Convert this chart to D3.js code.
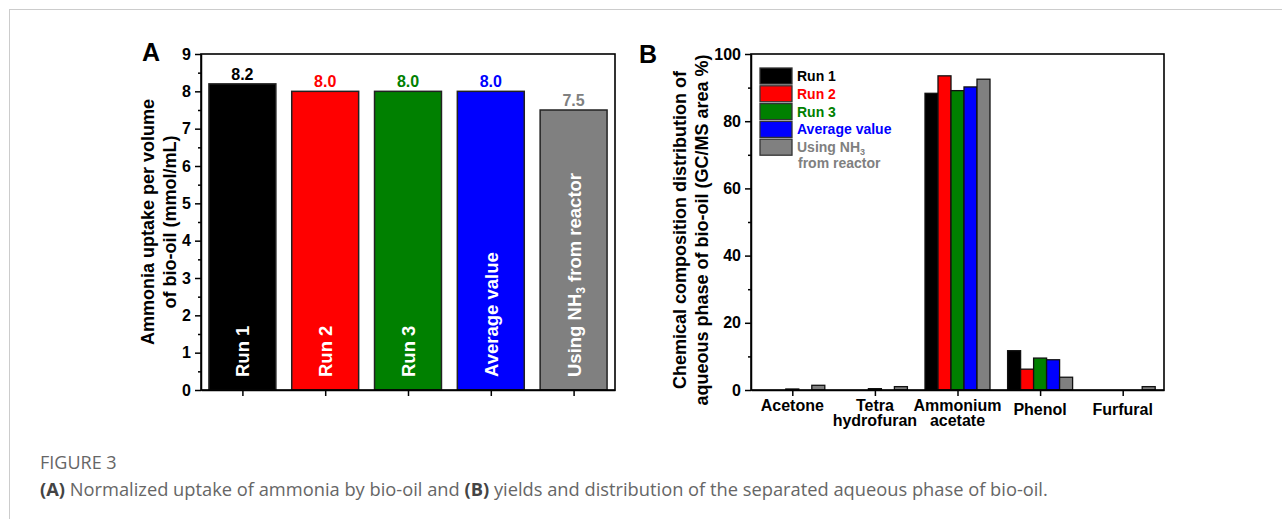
<!DOCTYPE html>
<meta charset="utf-8">
<style>
body { margin: 0; background: #fff; }
svg text { font-family: "Liberation Sans", Arial, sans-serif; }
.axis path, .axis line { stroke: #000; stroke-width: 1.5px; }
.axis text { font-weight: bold; font-size: 16px; fill: #000; }
.frame { fill: none; stroke: #000; stroke-width: 1.6px; }
svg text.caption { font-family: "Open Sans", sans-serif; fill: #666; }
</style>
<svg width="1282" height="519"></svg>
<script src="https://d3js.org/d3.v7.min.js"></script>
<script>

// panel A
var runs = ["Run 1", "Run 2", "Run 3", "Average value", "Using NH3 from reactor"];
var uptake = [8.2, 8.0, 8.0, 8.0, 7.5];
var runColors = ["#000000", "#ff0000", "#008000", "#0000ff", "#808080"];

// panel B
var compounds = ["Acetone", "Tetra hydrofuran", "Ammonium acetate", "Phenol", "Furfural"];
var run1 = [0, 0, 88.3, 11.7, 0];
var run2 = [0, 0, 93.5, 6.2, 0];
var run3 = [0.3, 0.4, 89.1, 9.5, 0];
var average = [0, 0, 90.2, 9.0, 0];
var reactor = [1.4, 1.0, 92.5, 3.8, 1.0];
var seriesB = [run1, run2, run3, average, reactor];

var svg = d3.select("svg");

// page frame
svg.append("line").attr("x1", 9).attr("x2", 1282).attr("y1", 9.5).attr("y2", 9.5)
    .attr("stroke", "#ccc");
svg.append("line").attr("x1", 9.5).attr("x2", 9.5).attr("y1", 9).attr("y2", 519)
    .attr("stroke", "#ccc");

// ---------- panel A ----------
var ax = {left: 201, right: 615, top: 54, bottom: 390};

var xA = d3.scaleBand().domain(runs).range([ax.left, ax.right]).paddingInner(0.19).paddingOuter(0.1);
var xAt = d3.scalePoint().domain(runs).range([ax.left, ax.right]).padding(0.5);
var yA = d3.scaleLinear().domain([0, 9]).range([ax.bottom, ax.top]);

var gA = svg.append("g");

gA.selectAll(".barA")
  .data(runs)
  .enter().append("rect")
    .attr("x", function(d) { return xAt(d) - xA.bandwidth() / 2; })
    .attr("y", function(d, i) { return yA(uptake[i]); })
    .attr("width", xA.bandwidth())
    .attr("height", function(d, i) { return ax.bottom - yA(uptake[i]); })
    .attr("fill", function(d, i) { return runColors[i]; })
    .attr("stroke", "#222")
    .attr("stroke-width", 1.5);

gA.selectAll(".valA")
  .data(runs)
  .enter().append("text")
    .attr("x", function(d) { return xAt(d); })
    .attr("y", function(d, i) { return yA(uptake[i]) - 4; })
    .attr("text-anchor", "middle")
    .attr("font-weight", "bold")
    .attr("font-size", 16)
    .attr("fill", function(d, i) { return runColors[i]; })
    .text(function(d, i) { return uptake[i].toFixed(1); });

var inLab = gA.selectAll(".inA")
  .data(runs)
  .enter().append("text")
    .attr("transform", function(d) { return "translate(" + (xAt(d) + 7) + "," + (ax.bottom - 13) + ") rotate(-90)"; })
    .attr("font-weight", "bold")
    .attr("font-size", 18.5)
    .attr("fill", "#fff");
inLab.each(function(d) {
  var t = d3.select(this);
  if (d.indexOf("NH3") >= 0) {
    t.append("tspan").text("Using NH");
    t.append("tspan").attr("font-size", 12).attr("dy", 4).text("3");
    t.append("tspan").attr("dy", -4).text(" from reactor");
  } else {
    t.text(d);
  }
});

gA.append("g").attr("class", "axis")
    .attr("transform", "translate(" + ax.left + ",0)")
    .call(d3.axisLeft(yA).ticks(9).tickSize(6).tickPadding(4).tickSizeOuter(0));
gA.append("g").attr("class", "axis")
    .attr("transform", "translate(" + ax.left + ",0)")
    .call(d3.axisLeft(yA).tickValues(d3.range(0.5, 9, 1)).tickSize(3).tickFormat("").tickSizeOuter(0))
    .select(".domain").remove();
gA.append("g").attr("class", "axis")
    .attr("transform", "translate(0," + ax.bottom + ")")
    .call(d3.axisBottom(xAt).tickSize(6).tickFormat("").tickSizeOuter(0));
gA.append("rect").attr("class", "frame")
    .attr("x", ax.left).attr("y", ax.top)
    .attr("width", ax.right - ax.left).attr("height", ax.bottom - ax.top);

var titA = gA.append("text")
    .attr("transform", "translate(154," + (ax.top + ax.bottom) / 2 + ") rotate(-90)")
    .attr("text-anchor", "middle").attr("font-weight", "bold").attr("font-size", 18);
titA.append("tspan").attr("x", 0).attr("dy", 0).text("Ammonia uptake per volume");
titA.append("tspan").attr("x", 0).attr("dy", 22).text("of bio-oil (mmol/mL)");

svg.append("text").attr("x", 142).attr("y", 61)
    .attr("font-weight", "bold").attr("font-size", 25).text("A");

// ---------- panel B ----------
var bx = {left: 751, right: 1164, top: 54, bottom: 390};

var xB = d3.scalePoint().domain(compounds).range([bx.left, bx.right]).padding(0.5);
var xSub = d3.scaleBand().domain(d3.range(5)).range([-32.5, 32.5]);
var yB = d3.scaleLinear().domain([0, 100]).range([bx.bottom, bx.top]);

var gB = svg.append("g");

seriesB.forEach(function(vals, s) {
  gB.selectAll(".barB" + s)
    .data(compounds)
    .enter().filter(function(d, i) { return vals[i] > 0; }).append("rect")
      .attr("x", function(d) { return xB(d) + xSub(s); })
      .attr("y", function(d) { return yB(vals[compounds.indexOf(d)]); })
      .attr("width", xSub.bandwidth())
      .attr("height", function(d) { return bx.bottom - yB(vals[compounds.indexOf(d)]); })
      .attr("fill", runColors[s])
      .attr("stroke", "#111")
      .attr("stroke-width", 1.3);
});

gB.append("g").attr("class", "axis")
    .attr("transform", "translate(" + bx.left + ",0)")
    .call(d3.axisLeft(yB).tickValues(d3.range(0, 101, 20)).tickSize(6).tickPadding(4).tickSizeOuter(0));
gB.append("g").attr("class", "axis")
    .attr("transform", "translate(" + bx.left + ",0)")
    .call(d3.axisLeft(yB).tickValues(d3.range(10, 100, 20)).tickSize(3).tickFormat("").tickSizeOuter(0))
    .select(".domain").remove();
gB.append("g").attr("class", "axis")
    .attr("transform", "translate(0," + bx.bottom + ")")
    .call(d3.axisBottom(xB).tickSize(6).tickFormat("").tickSizeOuter(0));
gB.append("rect").attr("class", "frame")
    .attr("x", bx.left).attr("y", bx.top)
    .attr("width", bx.right - bx.left).attr("height", bx.bottom - bx.top);

gB.selectAll(".labB")
  .data(compounds)
  .enter().append("text")
    .attr("x", function(d) { return xB(d); })
    .attr("y", function(d, i) { return i < 3 ? 411 : 415; })
    .attr("text-anchor", "middle")
    .attr("font-weight", "bold")
    .attr("font-size", 16)
    .each(function(d) {
      var parts = d.split(" ");
      var t = d3.select(this);
      parts.forEach(function(p, k) {
        t.append("tspan").attr("x", xB(d)).attr("dy", k ? 15 : 0).text(p);
      });
    });

var titB = gB.append("text")
    .attr("transform", "translate(686,230) rotate(-90)")
    .attr("text-anchor", "middle").attr("font-weight", "bold").attr("font-size", 18);
titB.append("tspan").attr("x", 0).attr("dy", 0).text("Chemical composition distribution of");
titB.append("tspan").attr("x", 0).attr("dy", 22).text("aqueous phase of bio-oil (GC/MS area %)");

svg.append("text").attr("x", 639).attr("y", 63)
    .attr("font-weight", "bold").attr("font-size", 25).text("B");

// legend
var leg = gB.append("g").attr("transform", "translate(760,68)");
runs.forEach(function(r, i) {
  var g = leg.append("g").attr("transform", "translate(0," + i * 17.8 + ")");
  g.append("rect").attr("width", 32).attr("height", 16)
      .attr("fill", runColors[i]).attr("stroke", "#333").attr("stroke-width", 1.3);
  var t = g.append("text").attr("x", 37).attr("y", 13)
      .attr("font-weight", "bold").attr("font-size", 14).attr("fill", runColors[i]);
  if (r.indexOf("NH3") >= 0) {
    t.append("tspan").text("Using NH");
    t.append("tspan").attr("font-size", 9).attr("dy", 3).text("3");
    t.append("tspan").attr("x", 38).attr("dy", 13).text("from reactor");
  } else {
    t.text(r);
  }
});

// caption
svg.append("text").attr("class", "caption").attr("x", 40).attr("y", 469)
    .attr("font-size", 18).text("FIGURE 3");
var cap = svg.append("text").attr("class", "caption").attr("x", 40).attr("y", 496)
    .attr("font-size", 18.3);
cap.append("tspan").attr("font-weight", "bold").attr("fill", "#444").text("(A)");
cap.append("tspan").text(" Normalized uptake of ammonia by bio-oil and ");
cap.append("tspan").attr("font-weight", "bold").attr("fill", "#444").text("(B)");
cap.append("tspan").text(" yields and distribution of the separated aqueous phase of bio-oil.");

</script>
